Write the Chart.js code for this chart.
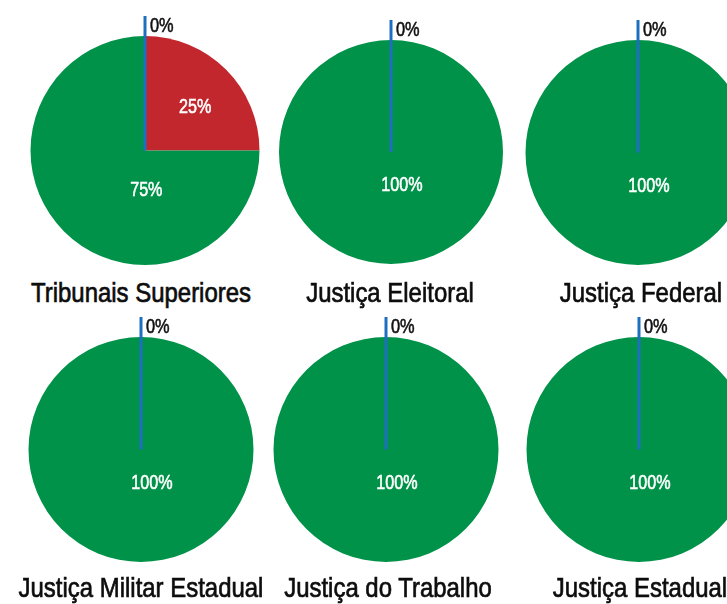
<!DOCTYPE html>
<html lang="pt">
<head>
<meta charset="utf-8">
<script src="https://cdn.jsdelivr.net/npm/chart.js@4.4.1/dist/chart.umd.min.js"></script>
<style>
  html, body { margin: 0; padding: 0; background: #ffffff; }
  body { width: 727px; height: 604px; overflow: hidden; position: relative; }
  .pie { position: absolute; }
  .court {
    position: absolute;
    font-family: "Liberation Sans", Arial, sans-serif;
    font-size: 28.5px;
    line-height: 28.5px;
    color: #0d0d0d;
    -webkit-text-stroke: 0.7px #0d0d0d;
    white-space: nowrap;
    transform: translateX(-50%) scaleX(0.84);
    transform-origin: center top;
  }
</style>
</head>
<body>
<script>
// Courts shown, one pie each
const courts = [
  "Tribunais Superiores",
  "Justiça Eleitoral",
  "Justiça Federal",
  "Justiça Militar Estadual",
  "Justiça do Trabalho",
  "Justiça Estadual"
];
// Slice categories and their shares (%) per court
const sliceNames = ["Categoria 1", "Categoria 2", "Categoria 3"];
const blueShare  = [0, 0, 0, 0, 0, 0];
const redShare   = [25, 0, 0, 0, 0, 0];
const greenShare = [75, 100, 100, 100, 100, 100];

const sliceColors = ["#1f6fc1", "#c1272d", "#009249"];

// Layout: pie centre x, centre y, radius; title centre x, title top
const pieLayout = [
  { cx: 144.5, cy: 150.5, r: 114.5, tx: 141, ty: 278 },
  { cx: 391,   cy: 151.5, r: 112,   tx: 390, ty: 278 },
  { cx: 638,   cy: 152,   r: 112.5, tx: 641, ty: 278 },
  { cx: 141,   cy: 449.5, r: 112.5, tx: 141, ty: 573 },
  { cx: 385.5, cy: 449.5, r: 112.5, tx: 388, ty: 573 },
  { cx: 638.5, cy: 449.5, r: 112.5, tx: 640, ty: 573 }
];
// Where each slice label sits: [angle in degrees (0 = right, clockwise), fraction of radius]
const labelPlacement = [
  [null, [-42, 0.59], [88, 0.33]],
  [null, null, [71, 0.30]],
  [null, null, [71, 0.30]],
  [null, null, [71, 0.30]],
  [null, null, [71, 0.30]],
  [null, null, [71, 0.30]]
];

const FONT = '"Liberation Sans", Arial, sans-serif';

function drawSquashed(ctx, text, x, y, size, sx, color, align) {
  ctx.save();
  ctx.font = size + 'px ' + FONT;
  ctx.fillStyle = color;
  ctx.strokeStyle = color;
  ctx.lineWidth = 0.6;
  ctx.textBaseline = 'alphabetic';
  ctx.textAlign = 'left';
  const w = ctx.measureText(text).width * sx;
  let left = x;
  if (align === 'center') left = x - w / 2;
  ctx.translate(left, y);
  ctx.scale(sx, 1);
  ctx.fillText(text, 0, 0);
  ctx.strokeText(text, 0, 0);
  ctx.restore();
}

// Draws the zero-share marker line with its label, and the share labels inside slices
const sliceLabels = {
  id: 'sliceLabels',
  afterDatasetsDraw(chart, args, opts) {
    const ctx = chart.ctx;
    const meta = chart.getDatasetMeta(0);
    const values = chart.data.datasets[0].data;
    meta.data.forEach((arc, i) => {
      const v = values[i];
      const { x, y, outerRadius, startAngle } = arc.getProps(['x', 'y', 'outerRadius', 'startAngle'], true);
      if (v === 0 && i === 0) {
        const len = outerRadius + 20;
        const ex = x + Math.cos(startAngle) * len;
        const ey = y + Math.sin(startAngle) * len;
        ctx.save();
        ctx.strokeStyle = sliceColors[0];
        ctx.lineWidth = 3;
        ctx.beginPath();
        ctx.moveTo(x, y);
        ctx.lineTo(ex, ey);
        ctx.stroke();
        ctx.restore();
        drawSquashed(ctx, v + '%', ex + 5, ey + 15.5, 21, 0.78, '#111111', 'left');
      } else if (v > 0) {
        const place = opts.placement[i];
        if (!place) return;
        const a = place[0] * Math.PI / 180;
        const d = place[1] * outerRadius;
        const lx = x + Math.cos(a) * d;
        const ly = y + Math.sin(a) * d;
        drawSquashed(ctx, v + '%', lx, ly + 7.5, 21, 0.77, '#ffffff', 'center');
      }
    });
  }
};

courts.forEach((court, k) => {
  const L = pieLayout[k];
  const halfW = 130;
  const padTop = 40, padBottom = 5;
  const side = halfW - L.r;

  const holder = document.createElement('div');
  holder.className = 'pie';
  holder.style.left = (L.cx - halfW) + 'px';
  holder.style.top = (L.cy - L.r - padTop) + 'px';
  const canvas = document.createElement('canvas');
  canvas.width = halfW * 2;
  canvas.height = L.r * 2 + padTop + padBottom;
  holder.appendChild(canvas);
  document.body.appendChild(holder);

  new Chart(canvas, {
    type: 'pie',
    data: {
      labels: sliceNames,
      datasets: [{
        data: [blueShare[k], redShare[k], greenShare[k]],
        backgroundColor: sliceColors,
        borderWidth: 0
      }]
    },
    options: {
      responsive: false,
      animation: false,
      devicePixelRatio: 1,
      layout: { padding: { top: padTop, bottom: padBottom, left: side, right: side } },
      plugins: {
        legend: { display: false },
        tooltip: { enabled: false },
        title: { display: false },
        sliceLabels: { placement: labelPlacement[k] }
      }
    },
    plugins: [sliceLabels]
  });

  const title = document.createElement('div');
  title.className = 'court';
  title.textContent = court;
  title.style.left = L.tx + 'px';
  title.style.top = L.ty + 'px';
  document.body.appendChild(title);
});
</script>
</body>
</html>
